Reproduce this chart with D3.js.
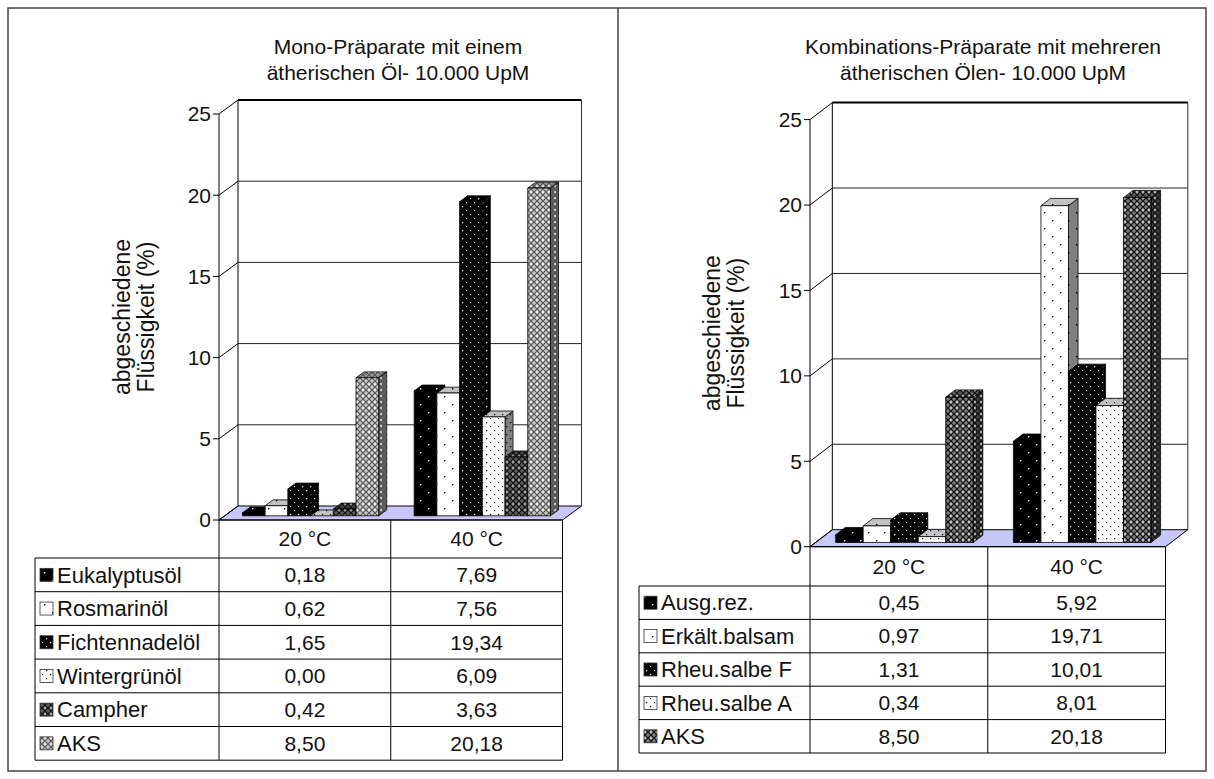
<!DOCTYPE html>
<html>
<head>
<meta charset="utf-8">
<script src="https://cdn.jsdelivr.net/npm/d3@7"></script>
<style>
  html, body { margin: 0; padding: 0; background: #fff; }
  svg { display: block; font-family: "Liberation Sans", Arial, sans-serif; }
</style>
</head>
<body>
<svg id="chart" width="1214" height="779"></svg>
<script>
// ---- data ----
const temperatures = ["20 °C", "40 °C"];
const yTicks = [0, 5, 10, 15, 20, 25];
const yTitle = ["abgeschiedene", "Flüssigkeit (%)"];

const monoTitle = ["Mono-Präparate mit einem", "ätherischen Öl- 10.000 UpM"];
const monoSeries = ["Eukalyptusöl", "Rosmarinöl", "Fichtennadelöl", "Wintergrünöl", "Campher", "AKS"];
const monoAt20 = [0.18, 0.62, 1.65, 0.00, 0.42, 8.50];
const monoAt40 = [7.69, 7.56, 19.34, 6.09, 3.63, 20.18];

const comboTitle = ["Kombinations-Präparate mit mehreren", "ätherischen Ölen- 10.000 UpM"];
const comboSeries = ["Ausg.rez.", "Erkält.balsam", "Rheu.salbe F", "Rheu.salbe A", "AKS"];
const comboAt20 = [0.45, 0.97, 1.31, 0.34, 8.50];
const comboAt40 = [5.92, 19.71, 10.01, 8.01, 20.18];

// ---- fill styles (pattern kind, background, ink) ----
const monoStyles = [
  { kind: "sparse", bg: "#000", ink: "#fff" },
  { kind: "sparse", bg: "#fff", ink: "#000" },
  { kind: "dense",  bg: "#000", ink: "#fff" },
  { kind: "dense",  bg: "#fff", ink: "#000" },
  { kind: "mesh",   bg: "#5a5a5a", ink: "#111", dot: "#cfcfcf" },
  { kind: "mesh",   bg: "#c4c4c4", ink: "#555", dot: "#fff" }
];
const comboStyles = [
  { kind: "sparse", bg: "#000", ink: "#fff" },
  { kind: "sparse", bg: "#fff", ink: "#000" },
  { kind: "dense",  bg: "#000", ink: "#fff" },
  { kind: "dense",  bg: "#fff", ink: "#000" },
  { kind: "mesh",   bg: "#7a7a7a", ink: "#111", dot: "#eee" }
];

const FONT = 21;        // titles, ticks, table values
const LABEL_FONT = 22;  // series names in the table
const AXIS_FONT = 23;   // vertical axis title
const svg = d3.select("#chart");
const defs = svg.append("defs");
const fmt = v => d3.format(".2f")(v).replace(".", ",");

function shade(color, k) {
  const c = d3.rgb(color);
  return d3.rgb(c.r * k, c.g * k, c.b * k).formatHex();
}

// builds one pattern fill and returns its url
function makePattern(id, st, k) {
  const bg = shade(st.bg, k);
  const size = st.kind === "sparse" ? 16 : st.kind === "dense" ? 8 : 6;
  const p = defs.append("pattern").attr("id", id)
    .attr("patternUnits", "userSpaceOnUse").attr("width", size).attr("height", size);
  p.append("rect").attr("width", size).attr("height", size).attr("fill", bg);
  if (st.kind === "sparse") {
    [[4, 4], [12, 12]].forEach(([x, y]) =>
      p.append("rect").attr("x", x).attr("y", y).attr("width", 1.4).attr("height", 1.4).attr("fill", st.ink));
  } else if (st.kind === "dense") {
    [[2, 2], [6, 6]].forEach(([x, y]) =>
      p.append("rect").attr("x", x).attr("y", y).attr("width", 1.2).attr("height", 1.2).attr("fill", st.ink));
  } else {
    p.append("path").attr("d", "M0,0L6,6M6,0L0,6").attr("stroke", st.ink).attr("stroke-width", 1.1);
    p.append("rect").attr("x", 2.4).attr("y", 0).attr("width", 1.2).attr("height", 1.2).attr("fill", st.dot);
    p.append("rect").attr("x", 2.4).attr("y", 4.8).attr("width", 1.2).attr("height", 1.2).attr("fill", st.dot);
  }
  return `url(#${id})`;
}

function drawChart(cfg) {
  const g = svg.append("g");
  const { x0, x1, dx, dy, series, styles } = cfg;
  const values = [cfg.at20, cfg.at40];

  const x = d3.scaleBand().domain(temperatures).range([x0, x1]);
  const xs = d3.scaleBand().domain(series).range([0, x.bandwidth()])
    .paddingInner(0).paddingOuter(cfg.outerPad);
  const y = d3.scaleLinear().domain([0, 25]).range([cfg.yBase, cfg.yTop]);

  const fills = styles.map((st, i) => ({
    front: makePattern(`${cfg.id}-f${i}`, st, 1),
    top: makePattern(`${cfg.id}-t${i}`, st, 0.76),
    side: makePattern(`${cfg.id}-s${i}`, st, 0.5)
  }));

  // title
  g.append("text").attr("x", cfg.titleX).attr("y", cfg.titleY)
    .attr("text-anchor", "middle").attr("font-size", FONT).attr("fill", "#111")
    .selectAll("tspan").data(cfg.title).join("tspan")
    .attr("x", cfg.titleX).attr("dy", (d, i) => i ? 26 : 0).text(d => d);

  // floor
  g.append("path")
    .attr("d", `M${x0},${y(0)}L${x1},${y(0)}L${x1 + dx},${y(0) - dy}L${x0 + dx},${y(0) - dy}Z`)
    .attr("fill", "#c8c8f8").attr("stroke", "#000").attr("stroke-width", 1);

  // back wall grid
  g.append("g").selectAll("line").data(yTicks.filter(t => t > 0 && t < 25)).join("line")
    .attr("x1", x0 + dx).attr("x2", x1 + dx)
    .attr("y1", t => y(t) - dy).attr("y2", t => y(t) - dy)
    .attr("stroke", "#222").attr("stroke-width", 1);
  g.append("line").attr("x1", x0 + dx).attr("x2", x1 + dx)
    .attr("y1", y(25) - dy).attr("y2", y(25) - dy).attr("stroke", "#000").attr("stroke-width", 2);
  g.append("line").attr("x1", x1 + dx).attr("x2", x1 + dx)
    .attr("y1", y(25) - dy).attr("y2", y(0) - dy).attr("stroke", "#333").attr("stroke-width", 1);
  g.append("line").attr("x1", x0 + dx).attr("x2", x0 + dx)
    .attr("y1", y(25) - dy).attr("y2", y(0) - dy).attr("stroke", "#000").attr("stroke-width", 1);

  // side wall diagonals, front axis, ticks, labels
  g.append("g").selectAll("line").data(yTicks).join("line")
    .attr("x1", x0).attr("x2", x0 + dx)
    .attr("y1", t => y(t)).attr("y2", t => y(t) - dy)
    .attr("stroke", "#000").attr("stroke-width", 1);
  g.append("line").attr("x1", x0).attr("x2", x0)
    .attr("y1", y(25)).attr("y2", y(0)).attr("stroke", "#000").attr("stroke-width", 1);
  g.append("g").selectAll("line").data(yTicks).join("line")
    .attr("x1", x0 - 6).attr("x2", x0).attr("y1", t => y(t)).attr("y2", t => y(t))
    .attr("stroke", "#000");
  g.append("g").selectAll("text").data(yTicks).join("text")
    .attr("x", x0 - 8).attr("y", t => y(t)).attr("dy", "0.35em")
    .attr("text-anchor", "end").attr("font-size", FONT).attr("fill", "#111")
    .text(d => d);

  // axis title
  const ty = (y(0) + y(25)) / 2;
  yTitle.forEach((line, i) => {
    g.append("text")
      .attr("transform", `translate(${cfg.yTitleX + i * 24},${ty}) rotate(-90)`)
      .attr("text-anchor", "middle").attr("dy", "0.35em")
      .attr("font-size", AXIS_FONT).attr("fill", "#111").text(line);
  });

  // bars, painted left to right
  const f1 = cfg.depth[0], f2 = cfg.depth[1];
  const ddx = (f2 - f1) * dx, ddy = (f2 - f1) * dy;
  const bars = [];
  temperatures.forEach((tmp, gi) => {
    series.forEach((s, si) => bars.push({ tmp, s, si, v: values[gi][si] }));
  });
  const w = xs.bandwidth();
  const bg = g.append("g").attr("stroke", "#000").attr("stroke-width", 0.8).attr("stroke-linejoin", "round");
  bars.forEach(b => {
    const bx = x(b.tmp) + xs(b.s) + f1 * dx;
    const base = y(0) - f1 * dy;
    const top = y(b.v) - f1 * dy;
    bg.append("path")
      .attr("d", `M${bx + w},${top}L${bx + w + ddx},${top - ddy}L${bx + w + ddx},${base - ddy}L${bx + w},${base}Z`)
      .attr("fill", fills[b.si].side);
    bg.append("path")
      .attr("d", `M${bx},${top}L${bx + w},${top}L${bx + w + ddx},${top - ddy}L${bx + ddx},${top - ddy}Z`)
      .attr("fill", fills[b.si].top);
    bg.append("rect").attr("x", bx).attr("y", top).attr("width", w).attr("height", base - top)
      .attr("fill", fills[b.si].front);
  });

  // data table
  const hb = cfg.headerBottom, rh = cfg.rowH;
  const tb = hb + rh * series.length;
  const tg = g.append("g").attr("stroke", "#000").attr("stroke-width", 1);
  tg.append("line").attr("x1", x0).attr("x2", x1).attr("y1", y(0)).attr("y2", y(0));
  d3.range(series.length + 1).forEach(k =>
    tg.append("line").attr("x1", cfg.tableX).attr("x2", x1).attr("y1", hb + k * rh).attr("y2", hb + k * rh));
  [x0, x0 + x.bandwidth(), x1].forEach(xx =>
    tg.append("line").attr("x1", xx).attr("x2", xx).attr("y1", y(0)).attr("y2", tb));
  tg.append("line").attr("x1", cfg.tableX).attr("x2", cfg.tableX).attr("y1", hb).attr("y2", tb);

  temperatures.forEach(t => {
    g.append("text").attr("x", x(t) + x.bandwidth() / 2).attr("y", (y(0) + hb) / 2)
      .attr("dy", "0.35em").attr("text-anchor", "middle").attr("font-size", FONT)
      .attr("fill", "#111").text(t);
  });
  series.forEach((s, si) => {
    const cy = hb + rh * si + rh / 2;
    g.append("rect").attr("x", cfg.tableX + 5).attr("y", cy - 6.5).attr("width", 13).attr("height", 13)
      .attr("fill", fills[si].front).attr("stroke", "#333").attr("stroke-width", 0.8);
    g.append("text").attr("x", cfg.tableX + 22).attr("y", cy).attr("dy", "0.35em")
      .attr("font-size", LABEL_FONT).attr("fill", "#111").text(s);
    temperatures.forEach((t, gi) => {
      g.append("text").attr("x", x(t) + x.bandwidth() / 2).attr("y", cy).attr("dy", "0.35em")
        .attr("text-anchor", "middle").attr("font-size", FONT).attr("fill", "#111")
        .text(fmt(values[gi][si]));
    });
  });
}

// outer frame and divider
svg.append("rect").attr("x", 8).attr("y", 8).attr("width", 1198).attr("height", 763)
  .attr("fill", "none").attr("stroke", "#444").attr("stroke-width", 1.5);
svg.append("line").attr("x1", 618).attr("x2", 618).attr("y1", 8).attr("y2", 771)
  .attr("stroke", "#444").attr("stroke-width", 1.5);

drawChart({
  id: "mono", title: monoTitle, series: monoSeries, styles: monoStyles,
  at20: monoAt20, at40: monoAt40,
  x0: 219, x1: 562.5, yBase: 520, yTop: 114, dx: 19, dy: 14,
  outerPad: 0.78, depth: [0.3, 0.72],
  titleX: 398, titleY: 54, yTitleX: 122,
  tableX: 35, headerBottom: 558, rowH: 33.7
});

drawChart({
  id: "combo", title: comboTitle, series: comboSeries, styles: comboStyles,
  at20: comboAt20, at40: comboAt40,
  x0: 810, x1: 1165.5, yBase: 546.7, yTop: 119.6, dx: 22.3, dy: 17,
  outerPad: 0.73, depth: [0.25, 0.68],
  titleX: 983, titleY: 54, yTitleX: 712,
  tableX: 639, headerBottom: 586, rowH: 33.4
});
</script>
</body>
</html>
